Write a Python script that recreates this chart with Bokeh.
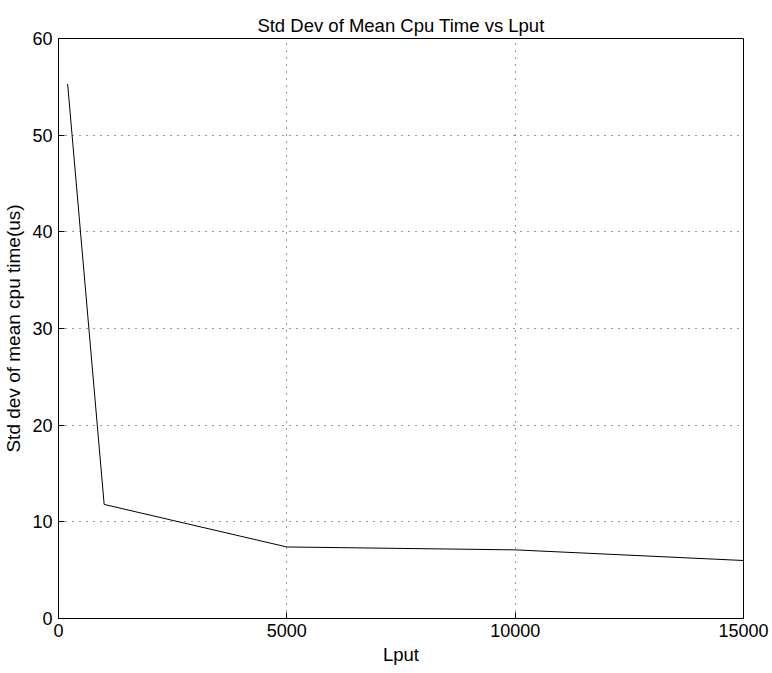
from bokeh.plotting import figure
from bokeh.models import Range1d, FixedTicker
from bokeh.embed import file_html
from bokeh.resources import INLINE

lput = [200, 1000, 5000, 10000, 15000]
std_dev = [55.3, 11.8, 7.4, 7.1, 6.0]
x_ticks = [0, 5000, 10000, 15000]
y_ticks = [0, 10, 20, 30, 40, 50, 60]

FONT = "Liberation Sans"

p = figure(frame_width=685, frame_height=580, output_backend="svg", toolbar_location=None,
           x_range=Range1d(0, 15000), y_range=Range1d(0, 60),
           title="Std Dev of Mean Cpu Time vs Lput",
           min_border_left=52, min_border_right=27, min_border_top=38, min_border_bottom=40)

p.title.align = "center"
p.title.text_font = FONT
p.title.text_font_size = "18.5px"
p.title.text_font_style = "normal"
p.title.text_color = "black"
p.title.standoff = 6

p.line(lput, std_dev, line_color="black", line_width=1)

p.outline_line_color = "black"
p.outline_line_width = 1

for ax, ticks in ((p.xaxis[0], x_ticks), (p.yaxis[0], y_ticks)):
    ax.ticker = FixedTicker(ticks=ticks)
    ax.major_tick_in = 6
    ax.major_tick_out = 0
    ax.minor_tick_in = 0
    ax.minor_tick_out = 0
    ax.axis_line_color = "black"
    ax.major_tick_line_color = "black"
    ax.major_label_text_font = FONT
    ax.major_label_text_font_size = "18px"
    ax.major_label_text_color = "black"
    ax.major_label_standoff = 6
    ax.axis_label_text_font = FONT
    ax.axis_label_text_font_style = "normal"
    ax.axis_label_text_color = "black"

p.xaxis[0].axis_label = "Lput"
p.xaxis[0].axis_label_text_font_size = "18.5px"
p.xaxis[0].major_label_standoff = 5
p.xaxis[0].axis_label_standoff = 4
p.yaxis[0].axis_label = "Std dev of mean cpu time(us)"
p.yaxis[0].axis_label_text_font_size = "19px"
p.yaxis[0].axis_label_standoff = 5

p.xgrid.ticker = FixedTicker(ticks=x_ticks)
p.ygrid.ticker = FixedTicker(ticks=y_ticks)
for g in (p.xgrid[0], p.ygrid[0]):
    g.grid_line_color = "black"
    g.grid_line_dash = "1 6"
    g.grid_line_width = 1
    g.grid_line_alpha = 0.8

open("out.html", "w").write(file_html(p, INLINE))
